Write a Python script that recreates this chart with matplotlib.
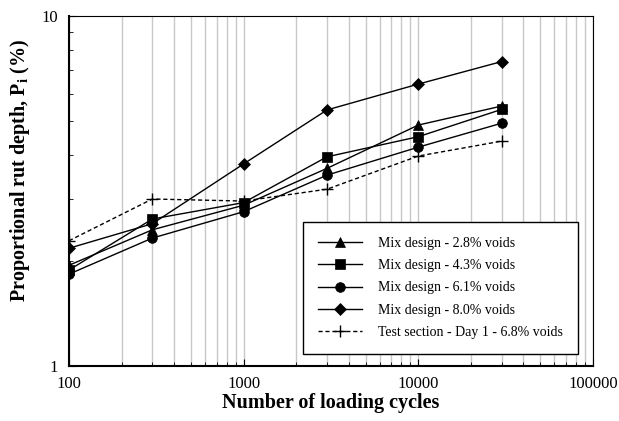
import matplotlib
matplotlib.use("Agg")
import matplotlib.pyplot as plt
from matplotlib.ticker import FixedLocator, LogLocator, NullFormatter, FixedFormatter

plt.rcParams["font.family"] = ["Liberation Serif", "DejaVu Serif"]
plt.rcParams["mathtext.fontset"] = "custom"
plt.rcParams["mathtext.rm"] = "Liberation Serif"
plt.rcParams["mathtext.it"] = "Liberation Serif:italic"
plt.rcParams["mathtext.bf"] = "Liberation Serif:bold"

cycles = [100, 300, 1000, 3000, 10000, 30000]

mix_28 = [1.94, 2.45, 2.88, 3.67, 4.88, 5.53]
mix_43 = [1.88, 2.63, 2.93, 3.96, 4.52, 5.41]
mix_61 = [1.83, 2.32, 2.76, 3.51, 4.22, 4.94]
mix_80 = [2.17, 2.55, 3.78, 5.39, 6.39, 7.41]
test_day1 = [2.28, 3.00, 2.96, 3.20, 3.98, 4.39]

labels = [
    "Mix design - 2.8% voids",
    "Mix design - 4.3% voids",
    "Mix design - 6.1% voids",
    "Mix design - 8.0% voids",
    "Test section - Day 1 - 6.8% voids",
]
x_ticks = [100, 1000, 10000, 100000]
x_tick_labels = ["100", "1000", "10000", "100000"]
y_ticks = [1, 10]
y_tick_labels = ["1", "10"]

fig = plt.figure(figsize=(6.19, 4.21), dpi=100)
ax = fig.add_axes([69 / 619, 55 / 421, 524 / 619, 350 / 421])

styles = [
    (mix_28, "^", "-", 7),
    (mix_43, "s", "-", 7),
    (mix_61, "o", "-", 7),
    (mix_80, "D", "-", 6),
    (test_day1, "+", "--", 8),
]
for (vals, marker, ls, ms), label in zip(styles, labels):
    ax.plot(cycles, vals, color="black", linestyle=ls, linewidth=1.0,
            marker=marker, markersize=ms, markeredgewidth=1.0 if marker == "+" else 0.5,
            label=label, dashes=(3, 2) if ls == "--" else (None, None))

ax.set_xscale("log")
ax.set_yscale("log")
ax.set_xlim(100, 100000)
ax.set_ylim(1, 10)

ax.xaxis.set_major_locator(FixedLocator(x_ticks))
ax.xaxis.set_major_formatter(FixedFormatter(x_tick_labels))
ax.xaxis.set_minor_locator(LogLocator(base=10, subs=range(2, 10), numticks=20))
ax.xaxis.set_minor_formatter(NullFormatter())
ax.yaxis.set_major_locator(FixedLocator(y_ticks))
ax.yaxis.set_major_formatter(FixedFormatter(y_tick_labels))
ax.yaxis.set_minor_locator(LogLocator(base=10, subs=range(2, 10), numticks=20))
ax.yaxis.set_minor_formatter(NullFormatter())

ax.grid(True, axis="x", which="both", color="#c8c8c8", linewidth=1.0)
ax.set_axisbelow(True)
ax.tick_params(which="both", direction="in", labelsize=12)
ax.tick_params(which="major", length=5)
ax.tick_params(which="minor", length=3)
ax.tick_params(axis="x", pad=7)
ax.tick_params(axis="y", pad=8)
for side in ["left", "bottom"]:
    ax.spines[side].set_linewidth(1.5)
for side in ["top", "right"]:
    ax.spines[side].set_linewidth(0.8)

ax.set_xlabel("Number of loading cycles", fontsize=14.5, fontweight="bold", labelpad=1)
ax.set_ylabel(r"Proportional rut depth, P$_\mathbf{i}$ (%)", fontsize=14.5, fontweight="bold")
ax.yaxis.set_label_coords(-0.07, 0.56)

leg = ax.legend(loc="lower right", bbox_to_anchor=(0.971, 0.034), fontsize=10,
                frameon=True, fancybox=False, edgecolor="black", framealpha=1,
                handlelength=3.2, labelspacing=0.66, borderpad=1.1, handletextpad=1.1,
                borderaxespad=0)
leg.get_frame().set_linewidth(1.0)

fig.savefig("out.png", dpi=100)
